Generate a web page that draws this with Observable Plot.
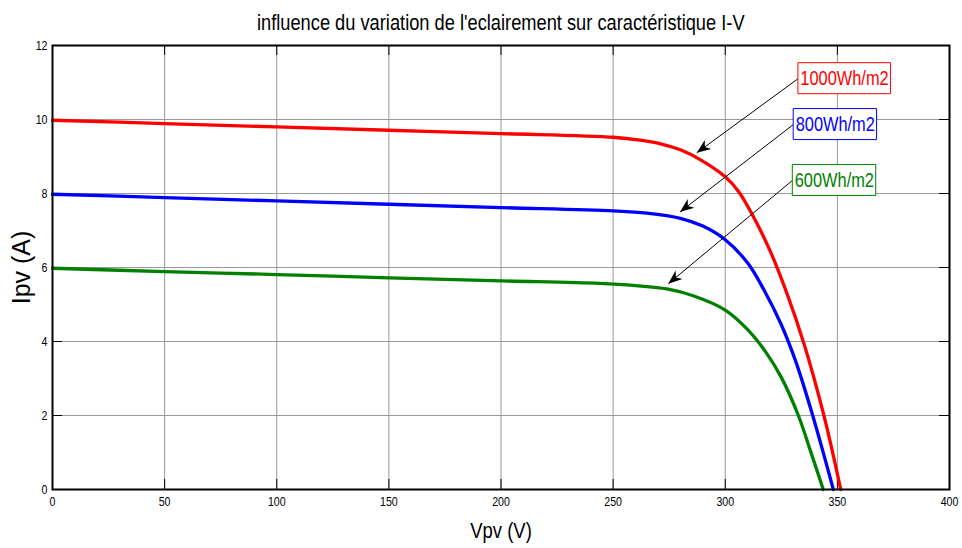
<!DOCTYPE html>
<html><head><meta charset="utf-8">
<script src="https://cdn.jsdelivr.net/npm/d3@7"></script>
<script src="https://cdn.jsdelivr.net/npm/@observablehq/plot@0.6"></script>
<style>
body{margin:0;background:#fff;}
#title{height:25px;padding-top:7px;padding-left:52px;width:897px;text-align:center;
 font-family:"Liberation Sans Narrow","Arial Narrow","Liberation Sans",Arial,sans-serif;font-size:22px;line-height:32px;color:#000;white-space:nowrap;}
#title span{display:inline-block;transform:scaleX(0.83);transform-origin:50% 50%;}
</style></head><body>
<div id="title"><span>influence du variation de l'eclairement sur caractéristique I-V</span></div>
<div id="chart"></div>
<script>
// ---- data ----
const xTicks = [0, 50, 100, 150, 200, 250, 300, 350, 400];
const yTicks = [0, 2, 4, 6, 8, 10, 12];

const V1000 = [0, 50, 100, 150, 200, 250, 262, 272, 280, 289, 300, 306, 312.5, 320, 327.5, 335, 344, 351.5];
const I1000 = [9.98, 9.89, 9.80, 9.71, 9.62, 9.52, 9.44, 9.33, 9.18, 8.91, 8.45, 8.05, 7.38, 6.45, 5.3, 3.96, 2.0, 0];

const V800 = [0, 50, 100, 150, 200, 250, 265, 280, 290, 300, 310, 317.4, 324.8, 331.5, 339, 348.2];
const I800 = [7.98, 7.89, 7.80, 7.71, 7.62, 7.53, 7.47, 7.33, 7.12, 6.75, 6.12, 5.38, 4.48, 3.45, 2.0, 0];

const V600 = [0, 50, 100, 150, 200, 244, 260, 274, 286, 300, 310, 318, 325, 332.6, 338.4, 343.7];
const I600 = [5.98, 5.89, 5.81, 5.72, 5.64, 5.57, 5.51, 5.42, 5.23, 4.85, 4.32, 3.72, 3.03, 2.0, 0.97, 0];

const labels = ["1000Wh/m2", "800Wh/m2", "600Wh/m2"];
const colors = ["#ff0000", "#0000ff", "#008000"];
const labelV = [332.4, 330.3, 329.9];
const labelI = [11.1, 9.86, 8.35];
const tipV = [287.3, 279.8, 274.6];
const tipI = [9.1, 7.5, 5.56];

// ---- build ----
const W = 962, H = 516, mL = 52, mR = 13, mT = 13, mB = 59;
const innerW = W - mL - mR, innerH = H - mT - mB;
const sans = "'Liberation Sans',Arial,sans-serif";

const curves = [[V1000, I1000], [V800, I800], [V600, I600]].map(([V, I], k) =>
  V.map((v, j) => ({v, i: I[j], k})));
const anns = labels.map((t, k) => ({t, k, sx: labelV[k], sy: labelI[k], tx: tipV[k], ty: tipI[k], c: colors[k]}));

const plot = Plot.plot({
  width: W, height: H,
  marginLeft: mL, marginRight: mR, marginTop: mT, marginBottom: mB,
  x: {domain: [0, 400]},
  y: {domain: [0, 12]},
  style: {fontFamily: sans, fontSize: "12px", color: "black", background: "white", overflow: "visible"},
  marks: [
    Plot.gridX(xTicks, {stroke: "#999", strokeOpacity: 1, strokeWidth: 1}),
    Plot.gridY(yTicks, {stroke: "#999", strokeOpacity: 1, strokeWidth: 1}),
    Plot.tickX(xTicks, {x: d => d, insetTop: innerH - 10, stroke: "black"}),
    Plot.tickX(xTicks, {x: d => d, insetBottom: innerH - 10, stroke: "black"}),
    Plot.tickY(yTicks, {y: d => d, insetRight: innerW - 10, stroke: "black"}),
    Plot.tickY(yTicks, {y: d => d, insetLeft: innerW - 10, stroke: "black"}),
    ...curves.map((data, k) => Plot.line(data, {x: "v", y: "i", stroke: colors[k], strokeWidth: 3.3, curve: "catmull-rom"})),
    Plot.frame({stroke: "black", strokeWidth: 2}),
    Plot.axisX(xTicks, {tickSize: 0, tickPadding: 8, label: null, fontSize: 12.5}),
    Plot.axisY(yTicks, {tickSize: 0, tickPadding: 5, label: null, fontSize: 12.5}),
    Plot.text(["Vpv (V)"], {frameAnchor: "bottom", lineAnchor: "middle", textAnchor: "middle", dy: 41, fontSize: 22}),
    Plot.text(["Ipv (A)"], {frameAnchor: "left", textAnchor: "middle", lineAnchor: "middle", dx: -31, rotate: -90, fontSize: 25}),
    Plot.link(anns, {x1: "sx", y1: "sy", x2: "tx", y2: "ty", stroke: "black", strokeWidth: 1}),
    Plot.text(anns, {x: "sx", y: "sy", text: "t", fill: "c", textAnchor: "start", dx: 3, fontSize: 20})
  ]
});
document.getElementById("chart").appendChild(plot);

const ns = "http://www.w3.org/2000/svg";
function condense(el, s, anchor, before) {
  const g = document.createElementNS(ns, "g");
  el.parentNode.insertBefore(g, el);
  if (before) g.appendChild(before);
  g.appendChild(el);
  const b = g.getBBox();
  const x0 = anchor === "start" ? b.x : anchor === "end" ? b.x + b.width : b.x + b.width / 2;
  g.setAttribute("transform", `translate(${x0},0) scale(${s},1) translate(${-x0},0)`);
  return g;
}

// arrowhead marker
const defs = document.createElementNS(ns, "defs");
defs.innerHTML = '<marker id="ah" markerUnits="userSpaceOnUse" viewBox="-1 -7 16 14" markerWidth="16" markerHeight="14" refX="14" refY="0" orient="auto"><path d="M0,-5.5L14,0L0,5.5L4,0Z" fill="black"/></marker>';
plot.insertBefore(defs, plot.firstChild);
plot.querySelectorAll('g[aria-label="link"] path').forEach(p => p.setAttribute("marker-end", "url(#ah)"));

// condensed tick labels
plot.querySelectorAll('g[aria-label="x-axis tick label"] text').forEach(t => condense(t, 0.85, "middle"));
plot.querySelectorAll('g[aria-label="y-axis tick label"] text').forEach(t => condense(t, 0.85, "end"));

// labels: boxes + condensed
plot.querySelectorAll('g[aria-label="text"] text').forEach(t => {
  if (t.textContent === "Vpv (V)") { condense(t, 0.84, "middle"); return; }
  const k = labels.indexOf(t.textContent);
  if (k < 0) return;
  const b = t.getBBox();
  const r = document.createElementNS(ns, "rect");
  r.setAttribute("x", b.x - 3);
  r.setAttribute("y", b.y - 4.5);
  r.setAttribute("width", b.width + 5);
  r.setAttribute("height", b.height + 9);
  r.setAttribute("fill", "white");
  r.setAttribute("stroke", colors[k]);
  r.setAttribute("stroke-width", 1);
  r.setAttribute("vector-effect", "non-scaling-stroke");
  if (t.getAttribute("transform")) r.setAttribute("transform", t.getAttribute("transform"));
  condense(t, 0.82, "start", r);
});
</script>
</body></html>
